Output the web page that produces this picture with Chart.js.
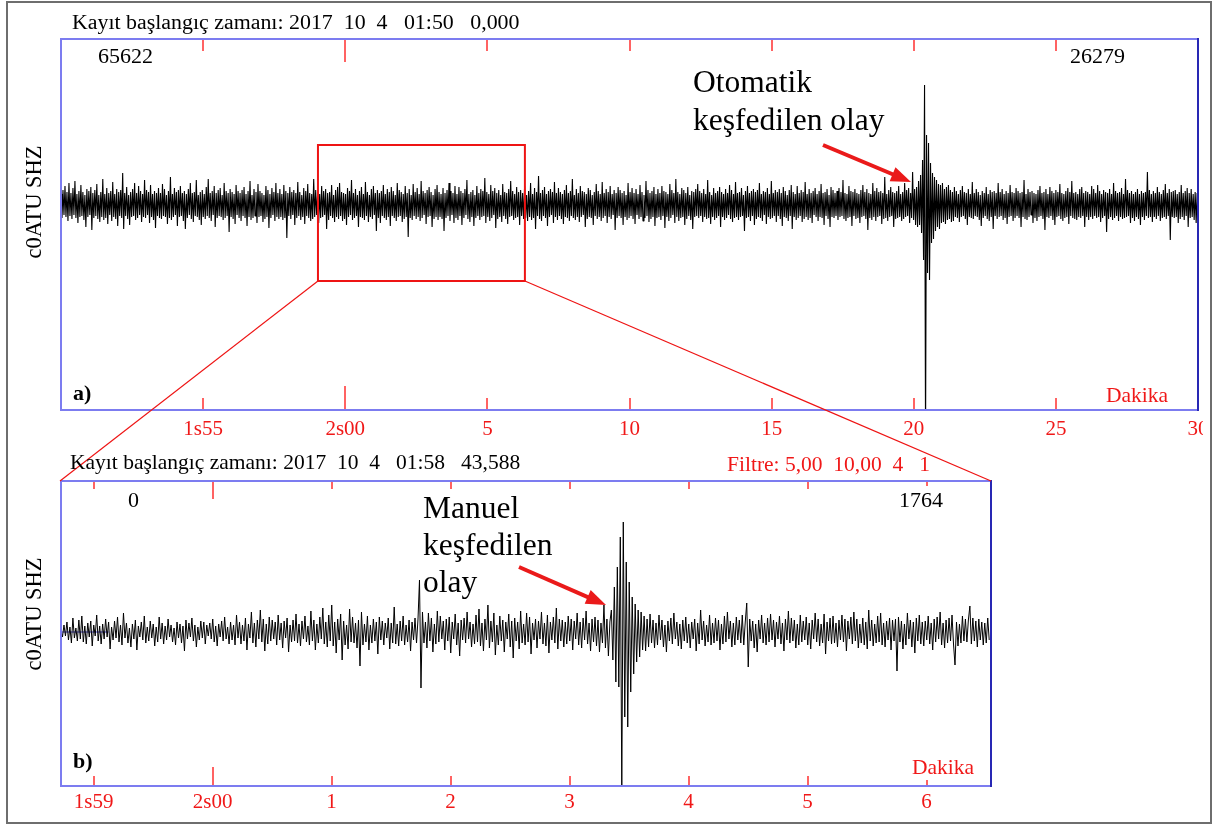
<!DOCTYPE html>
<html>
<head>
<meta charset="utf-8">
<script src="https://cdn.jsdelivr.net/npm/chart.js@4.4.1/dist/chart.umd.min.js"></script>
<style>
html,body{margin:0;padding:0;background:#fff;}
#wrap{position:relative;width:1215px;height:826px;overflow:hidden;font-family:'Liberation Serif','Times New Roman',serif;}
#outer{position:absolute;left:6px;top:1px;width:1206px;height:823px;border:2px solid #6e6e6e;box-sizing:border-box;}
canvas{position:absolute;left:0;}
#c1{top:0;}
#c2{top:440px;}
#ov{position:absolute;left:0;top:0;}
.t{position:absolute;white-space:pre;line-height:1;color:#000;}
.r{color:#f01818;}
.s21{font-size:21.5px;}
.s22{font-size:22px;}
.big{font-size:31.5px;}
.b{font-weight:bold;}
.rot{font-size:22.5px;transform:translate(-50%,-50%) rotate(-90deg);}
</style>
</head>
<body>
<div id="wrap">
<div id="outer"></div>
<canvas id="c1" width="1203" height="450" style="width:1203px;height:450px"></canvas>
<canvas id="c2" width="1000" height="386" style="width:1000px;height:386px"></canvas>
<svg id="ov" width="1215" height="826" xmlns="http://www.w3.org/2000/svg"></svg>

<div class="t" style="left:72px;top:11px;font-size:21.9px">Kayıt başlangıç zamanı: 2017  10  4   01:50   0,000</div>
<div class="t s22" style="left:98px;top:44.5px">65622</div>
<div class="t s22" style="left:1070px;top:44.5px">26279</div>
<div class="t big" style="left:693px;top:65.5px">Otomatik</div>
<div class="t big" style="left:693px;top:103.5px">keşfedilen olay</div>
<div class="t s22 b" style="left:73px;top:381.5px">a)</div>
<div class="t s21 r" style="left:1106px;top:385px">Dakika</div>
<div class="t rot" style="left:34px;top:202px">c0ATU SHZ</div>

<div class="t s21" style="left:70px;top:452px">Kayıt başlangıç zamanı: 2017  10  4   01:58   43,588</div>
<div class="t s21 r" style="left:727px;top:454px">Filtre: 5,00  10,00  4   1</div>
<div class="t s22" style="left:128px;top:488.5px">0</div>
<div class="t s22" style="left:899px;top:488.5px">1764</div>
<div class="t big" style="left:423px;top:491.5px">Manuel</div>
<div class="t big" style="left:423px;top:528.5px">keşfedilen</div>
<div class="t big" style="left:423px;top:565.5px">olay</div>
<div class="t s22 b" style="left:73px;top:749.5px">b)</div>
<div class="t s21 r" style="left:912px;top:757px">Dakika</div>
<div class="t rot" style="left:34px;top:614px">c0ATU SHZ</div>
</div>

<script>
// ---------------- DATA ----------------
// Panel a): record starts 01:50:00, x in minutes from start, one sample every 0.035 min
const topDt = 0.035;
const topXMax = 40;
const topYRange = [-205, 166];
const topTickValues = [5, 10, 15, 20, 25, 30, 35, 40];
const topTickLabels = ['1s55', '2s00', '5', '10', '15', '20', '25', '30'];

const topSeg1 = [
  11,-13,15,-10,19,-12,13,-16,22,-11,12,-14,17,-10,24,-13,11,-18,14,-12,
  20,-11,13,-15,10,-22,16,-12,14,-10,18,-25,12,-13,15,-11,21,-14,10,-17,
  13,-12,26,-15,11,-13,17,-19,12,-10,14,-16,23,-12,11,-14,16,-21,13,-11,
  15,-13,32,-24,12,-11,18,-14,10,-20,13,-12,16,-11,22,-15,12,-13,19,-10,
  14,-17,11,-12,25,-13,15,-10,13,-18,20,-12,11,-15,14,-23,12,-11,17,-13,
  12,-14,21,-11,16,-12,10,-19,14,-13,28,-15,11,-12,17,-10,13,-21,15,-12,
  19,-11,12,-16,14,-24,11,-13,16,-10,22,-14,12,-17,13,-11,25,-12,10,-15,
  13,-20,15,-12,11,-14,18,-11,26,-13,12,-16,14,-10,19,-22,12,-13,15,-11,
  17,-12,10,-15,22,-13,14,-11,12,-27,16,-12,13,-14,11,-19,20,-10,14,-13,
  12,-16,15,-11,18,-13,11,-21,14,-12,24,-15,10,-13,16,-11,13,-18,21,-12,
  14,-11,12,-17,10,-14,19,-12,15,-23,11,-13,17,-10,13,-16,22,-12,12,-14,
  16,-12,11,-15,20,-13,14,-33,12,-11,18,-14,13,-10,15,-20,12,-13,23,-11,
  13,-15,10,-12,17,-19,14,-11,21,-13,12,-16,11,-14,26,-12,15,-10,13,-18,
  11,-13,19,-12,14,-10,16,-24,12,-15,13,-11,20,-13,10,-17,15,-12,18,-14,
  22,-11,13,-16,12,-14,11,-20,17,-12,14,-10,25,-15,12,-13,16,-11,10,-22
];
const topSeg2 = [
  14,-12,18,-13,11,-15,23,-11,13,-17,10,-12,16,-14,19,-10,12,-26,15,-13,
  12,-18,14,-11,20,-13,11,-15,16,-12,13,-21,18,-11,14,-13,10,-16,22,-12,
  15,-11,13,-17,11,-14,19,-12,12,-32,16,-13,10,-15,21,-11,13,-14,17,-12,
  11,-16,24,-13,14,-10,12,-19,15,-12,18,-11,13,-22,10,-14,16,-12,20,-15,
  13,-12,11,-14,17,-26,12,-13,15,-11,22,-16,14,-10,12,-18,19,-13,11,-15,
  18,-11,14,-20,12,-13,16,-10,25,-14,11,-17,13,-12,15,-21,10,-13,19,-11,
  12,-15,16,-12,14,-11,27,-18,13,-12,11,-16,20,-13,14,-10,17,-23,12,-14,
  15,-12,10,-17,21,-11,13,-14,12,-19,16,-12,24,-11,14,-15,11,-13,18,-12,
  13,-20,15,-11,12,-14,19,-13,10,-16,14,-12,22,-15,11,-13,17,-24,13,-11,
  29,-14,12,-16,15,-11,18,-13,11,-21,14,-12,16,-10,13,-18,23,-12,12,-15,
  17,-11,13,-14,11,-19,15,-12,20,-13,12,-16,14,-11,26,-13,10,-15,16,-12,
  12,-17,19,-12,14,-10,13,-22,11,-14,17,-12,15,-13,10,-20,13,-11,21,-14,
  14,-12,11,-16,23,-13,12,-11,16,-18,13,-12,19,-14,11,-10,15,-25,12,-13,
  18,-11,15,-13,12,-20,14,-12,10,-15,22,-13,13,-11,17,-14,12,-19,16,-10
];
const topSeg3 = [
  11,-14,20,-12,13,-16,10,-13,24,-11,15,-17,12,-14,14,-12,18,-21,11,-13,
  16,-12,12,-15,19,-11,14,-23,13,-12,11,-16,21,-13,15,-10,12,-18,26,-12,
  13,-16,11,-13,17,-12,15,-20,12,-14,18,-11,10,-15,14,-24,13,-12,16,-11,
  21,-13,14,-11,12,-17,16,-12,11,-14,25,-13,13,-19,10,-12,17,-15,12,-13,
  14,-11,18,-22,13,-12,11,-15,16,-13,12,-10,20,-14,15,-17,11,-13,23,-12,
  12,-15,13,-12,17,-11,10,-26,14,-13,19,-12,12,-16,14,-11,16,-20,13,-14,
  15,-12,22,-13,11,-16,14,-10,13,-19,17,-12,11,-14,24,-13,12,-11,15,-17,
  13,-11,16,-14,12,-21,18,-12,14,-13,10,-16,15,-11,20,-24,13,-12,11,-15,
  19,-13,12,-11,15,-17,13,-14,23,-12,11,-15,16,-13,12,-18,14,-10,17,-12,
  11,-16,14,-12,21,-13,12,-20,13,-11,16,-14,10,-22,18,-12,15,-13,12,-11,
  14,-15,17,-12,13,-11,25,-14,12,-16,11,-13,19,-12,14,-21,13,-11,16,-14,
  12,-13,11,-18,15,-12,20,-11,13,-14,16,-25,12,-13,11,-15,22,-12,14,-16,
  17,-12,13,-11,14,-19,12,-14,28,-13,11,-16,15,-12,18,-11,13,-22,12,-14,
  14,-13,19,-12,11,-16,13,-14,22,-12,15,-11,17,-18,12,-13,33,-15,16,-20
];
const topEvent = [
  18,-22,24,-20,30,-28,45,-55,120,-235,70,-68,62,-75,42,-38,32,-34,28,-26,
  25,-22,21,-24,20,-18,22,-17,16,-19,18,-15,20,-14,15,-17,13,-16,18,-12
];
const topSeg4 = [
  14,-13,11,-17,15,-12,19,-11,13,-14,12,-20,16,-12,11,-13,23,-14,12,-11,
  16,-12,13,-15,10,-21,14,-13,12,-11,18,-14,11,-16,15,-12,13,-24,14,-11,
  12,-14,22,-12,13,-11,16,-15,11,-13,14,-19,12,-12,20,-11,13,-16,12,-13,
  17,-11,14,-13,12,-22,13,-12,25,-14,11,-15,16,-12,13,-10,14,-18,12,-13,
  11,-16,15,-12,19,-11,12,-14,13,-25,16,-12,11,-13,18,-11,14,-15,12,-20,
  15,-12,13,-11,21,-14,12,-16,11,-13,14,-12,17,-19,13,-11,24,-13,12,-14,
  13,-15,11,-12,16,-13,18,-11,12,-22,14,-12,13,-15,11,-12,19,-14,16,-11,
  12,-13,20,-12,14,-17,11,-13,15,-11,13,-27,12,-14,16,-12,11,-15,22,-13,
  14,-11,12,-16,13,-12,17,-14,11,-13,26,-12,15,-11,12,-18,14,-13,11,-16,
  13,-12,16,-14,11,-20,14,-12,12,-15,13,-11,33,-13,15,-12,11,-17,14,-12,
  12,-14,18,-11,13,-16,11,-13,15,-12,21,-14,12,-11,16,-35,13,-12,14,-13,
  15,-12,11,-18,13,-14,20,-12,12,-15,14,-11,17,-22,12,-13,16,-12,11,-15,
  13,-18,12,-14
];
const topValues = [].concat(topSeg1, topSeg2, topSeg3, topEvent, topSeg4);

// zoom window drawn on panel a) (minutes from 01:50, amplitude)
const zoomWindow = [9.04, 16.32];
const zoomAmp = [60, -76];

// Panel b): record starts 01:58:43.588, x in minutes from start, one sample every 0.75 s
const botDt = 0.0125;
const botXMax = 7.815;
const botYRange = [-154, 151];
const botTickValues = [0.2735, 1.2735, 2.2735, 3.2735, 4.2735, 5.2735, 6.2735, 7.2735];
const botTickLabels = ['1s59', '2s00', '1', '2', '3', '4', '5', '6'];

const botSeg1 = [
  2,-5,7,-4,10,-8,5,-11,14,-6,4,-9,12,-7,16,-10,6,-12,9,-5,
  11,-14,7,-4,17,-9,6,-12,8,-7,13,-5,10,-17,5,-8,11,-6,15,-10,
  7,-13,19,-6,9,-11,4,-15,8,-7,12,-18,6,-5,10,-8,16,-11,5,-9,
  11,-6,8,-14,5,-10,15,-7,9,-12,6,-8,13,-5,7,-10,4,-13,10,-6,
  8,-11,6,-19,12,-7,9,-5,14,-9,7,-15,5,-8,11,-6,10,-12,7,-4,
  9,-7,13,-10,6,-14,8,-5,11,-9,15,-7,5,-12,10,-8,7,-13,17,-6,
  10,-12,7,-9,14,-18,8,-6,20,-11,9,-15,12,-7,22,-10,13,-19,8,-12,
  15,-9,12,-7,10,-13,17,-8,9,-16,11,-6,14,-20,7,-10,12,-9,18,-11
];
const botSeg2 = [
  8,-14,11,-7,16,-10,6,-13,21,-9,12,-18,8,-11,15,-7,24,-12,10,-15,
  17,-9,27,-14,10,-21,13,-8,18,-28,11,-13,7,-17,23,-10,15,-11,9,-16,
  12,-34,20,-13,8,-10,16,-18,7,-11,13,-9,10,-22,15,-8,11,-13,9,-6,
  14,-17,9,-11,25,-12,8,-14,11,-9,16,-13,7,-10,12,-19,10,-8,14,-11,
  13,52,-56,20,-11,10,-16,19,-9,14,-20,8,-12,21,-10,16,-7,11,-18,13,
  -9,15,-21,10,-7,18,-13,9,-24,12,-8,14,-11,20,-7,10,-15,8,-12,17,
  -10,23,-14,9,-19,13,-8,27,-16,11,-10,19,-23,7,-13,16,-9,12,-20,10,
  -7,18,-15,11,-26,14,-9,10,-17,21,-11,8,-13,19,-10,15,-22,9,-8,13,
  -16,11,-7,20,-12,9,-14,17,-21,10,-8,15,-11,24,-17,13,-9,12,-15,10,
  -12,16,-9,13,-18,11,-7,19,-13,10,-16,14,-8,21,-12,9,-19,13,-10,15
];
const botEvent = [
  -14,12,-20,9,-11,27,-16,13,-24,10,22,-28,45,-50,65,-55,95,-160,110,-85,
  70,-95,50,-60,35,-42,28,-30,22,-25,20,-18,16,-19,13,-15,18,-11,12,-16
];
const botSeg3 = [
  9,-13,17,-8,12,-15,7,-20,11,-9,14,-12,19,-7,10,-14,8,-17,12,-9,
  15,-11,8,-16,10,-7,13,-19,9,-12,22,-8,11,-14,7,-10,17,-13,9,-11,
  14,-9,12,-18,8,-12,16,-10,20,-7,11,-15,9,-13,15,-8,12,-11,17,-13,
  10,29,-35,13,-9,11,-16,8,-20,12,-7,17,-11,9,-13,14,-10,18,-8,12,
  -15,10,-7,16,-12,9,-19,13,-8,21,-11,14,-9,12,-16,8,-13,17,-10,11,
  -8,15,-13,9,-17,12,-7,19,-10,13,-14,8,-11,18,-22,10,-9,14,-12,16,
  -11,9,-15,12,-8,17,-10,13,-19,11,-7,15,-12,20,-9,13,-16,8,-11,14,
  -13,10,-17,22,-9,12,-14,8,-11,16,-10,19,-13,9,-15,11,-8,14,-18,12,
  -9,13,-39,15,-10,11,-17,8,-13,19,-7,12,-15,10,-21,14,-9,17,-12,10,
  -14,11,-8,16,-12,9,-18,13,-10,15,-7,20,-13,9,-16,12,-11,14,-9,17,
  -12,-33,10,-14,8,-11,16,-9,13,-10,12,26,-12,14,-9,11,-15,13,-8,10,
  -13,9,-11,14,-8
];
const botValues = [].concat(botSeg1, botSeg2, botEvent, botSeg3);
// short zero-level marker at the start of panel b)
const botZeroMark = [[0, 0], [0.4, 0]];

// ---------------- RENDER ----------------
const SERIF = "'Liberation Serif','Times New Roman',serif";
Chart.defaults.font.family = SERIF;

const framePlugin = {
  id: 'frame',
  afterDatasetsDraw(chart, args, o) {
    const {ctx, chartArea: a, scales: {x}} = chart;
    ctx.save();
    ctx.strokeStyle = o.tickColor;
    ctx.lineWidth = 1.5;
    o.ticks.forEach((v, i) => {
      const px = Math.round(x.getPixelForValue(v));
      ctx.beginPath();
      ctx.moveTo(px, a.top); ctx.lineTo(px, a.top + o.topLen[i]);
      ctx.moveTo(px, a.bottom); ctx.lineTo(px, a.bottom - o.bottomLen[i]);
      ctx.stroke();
    });
    ctx.lineWidth = 2;
    ctx.strokeStyle = o.frameColor;
    ctx.beginPath();
    ctx.moveTo(a.right, a.top); ctx.lineTo(a.left, a.top);
    ctx.lineTo(a.left, a.bottom); ctx.lineTo(a.right, a.bottom);
    ctx.stroke();
    ctx.strokeStyle = o.rightColor;
    ctx.beginPath();
    ctx.moveTo(a.right, a.top - 1); ctx.lineTo(a.right, a.bottom + 1);
    ctx.stroke();
    ctx.restore();
  }
};

function makeChart(id, cfg) {
  const datasets = [{
    data: cfg.values.map((v, i) => ({x: i * cfg.dt, y: v})),
    borderColor: '#000', borderWidth: cfg.lw, pointRadius: 0,
    borderJoinStyle: 'bevel', tension: 0, fill: false
  }];
  (cfg.extra || []).forEach(d => datasets.push(d));
  return new Chart(document.getElementById(id), {
    type: 'line',
    data: {datasets},
    options: {
      responsive: false, animation: false, devicePixelRatio: 1, events: [],
      layout: {padding: cfg.pad},
      plugins: {
        legend: {display: false}, tooltip: {enabled: false},
        frame: {
          ticks: cfg.tickVals, topLen: cfg.topLen, bottomLen: cfg.bottomLen,
          tickColor: '#ff3030', frameColor: '#7c7cf0', rightColor: '#2828b4'
        }
      },
      scales: {
        x: {
          type: 'linear', min: 0, max: cfg.xMax,
          grid: {display: false, drawTicks: false}, border: {display: false},
          ticks: {
            color: '#f01818', font: {size: 21, family: SERIF}, padding: cfg.labelPad,
            autoSkip: false, maxRotation: 0, minRotation: 0,
            callback: (v, i) => cfg.tickLabels[i]
          },
          afterBuildTicks: s => { s.ticks = cfg.tickVals.map(v => ({value: v})); },
          afterFit: s => { s.height = cfg.axisH; s.paddingLeft = 0; s.paddingRight = 0; }
        },
        y: {display: false, min: cfg.yRange[0], max: cfg.yRange[1]}
      }
    },
    plugins: [framePlugin]
  });
}

const chart1 = makeChart('c1', {
  values: topValues, dt: topDt, xMax: topXMax, yRange: topYRange,
  tickVals: topTickValues, tickLabels: topTickLabels,
  pad: {left: 61, right: 5, top: 39, bottom: 0}, axisH: 40, labelPad: 7, lw: 1.1,
  topLen: [12, 23, 12, 12, 12, 12, 12, 12], bottomLen: [12, 24, 12, 12, 12, 12, 12, 12]
});

const chart2 = makeChart('c2', {
  values: botValues, dt: botDt, xMax: botXMax, yRange: botYRange,
  tickVals: botTickValues, tickLabels: botTickLabels,
  pad: {left: 61, right: 9, top: 41, bottom: 0}, axisH: 40, labelPad: 4, lw: 1.0,
  topLen: [8, 18, 8, 8, 8, 8, 8, 5], bottomLen: [10, 19, 10, 10, 10, 10, 10, 6],
  extra: [{
    data: botZeroMark.map(p => ({x: p[0], y: p[1]})),
    borderColor: '#3a3ae0', borderWidth: 1, pointRadius: 0
  }]
});

// ---------- overlay: zoom box, connectors, arrows ----------
const svgNS = 'http://www.w3.org/2000/svg';
const ov = document.getElementById('ov');
function el(name, attrs) {
  const e = document.createElementNS(svgNS, name);
  for (const k in attrs) e.setAttribute(k, attrs[k]);
  ov.appendChild(e);
  return e;
}
const c2Top = 440;
const xs1 = chart1.scales.x, ys1 = chart1.scales.y;
const rx1 = xs1.getPixelForValue(zoomWindow[0]), rx2 = xs1.getPixelForValue(zoomWindow[1]);
const ry1 = ys1.getPixelForValue(zoomAmp[0]), ry2 = ys1.getPixelForValue(zoomAmp[1]);
const a2 = chart2.chartArea;
el('rect', {x: rx1, y: ry1, width: rx2 - rx1, height: ry2 - ry1, fill: 'none', stroke: '#ee1414', 'stroke-width': 2});
el('line', {x1: rx1, y1: ry2, x2: a2.left - 1, y2: a2.top + c2Top, stroke: '#ee1414', 'stroke-width': 1.2});
el('line', {x1: rx2, y1: ry2, x2: a2.right, y2: a2.top + c2Top, stroke: '#ee1414', 'stroke-width': 1.2});

function arrow(x1, y1, x2, y2) {
  const dx = x2 - x1, dy = y2 - y1, L = Math.hypot(dx, dy);
  const ux = dx / L, uy = dy / L, hl = 20, hw = 7.5;
  const bx = x2 - ux * hl, by = y2 - uy * hl;
  el('line', {x1, y1, x2: bx + ux * 2, y2: by + uy * 2, stroke: '#ea1a1a', 'stroke-width': 4});
  el('polygon', {points: `${x2},${y2} ${bx - uy * hw},${by + ux * hw} ${bx + uy * hw},${by - ux * hw}`, fill: '#ea1a1a'});
}
arrow(823, 145, 911, 182);
arrow(519, 567, 606, 605);
</script>
</body>
</html>
